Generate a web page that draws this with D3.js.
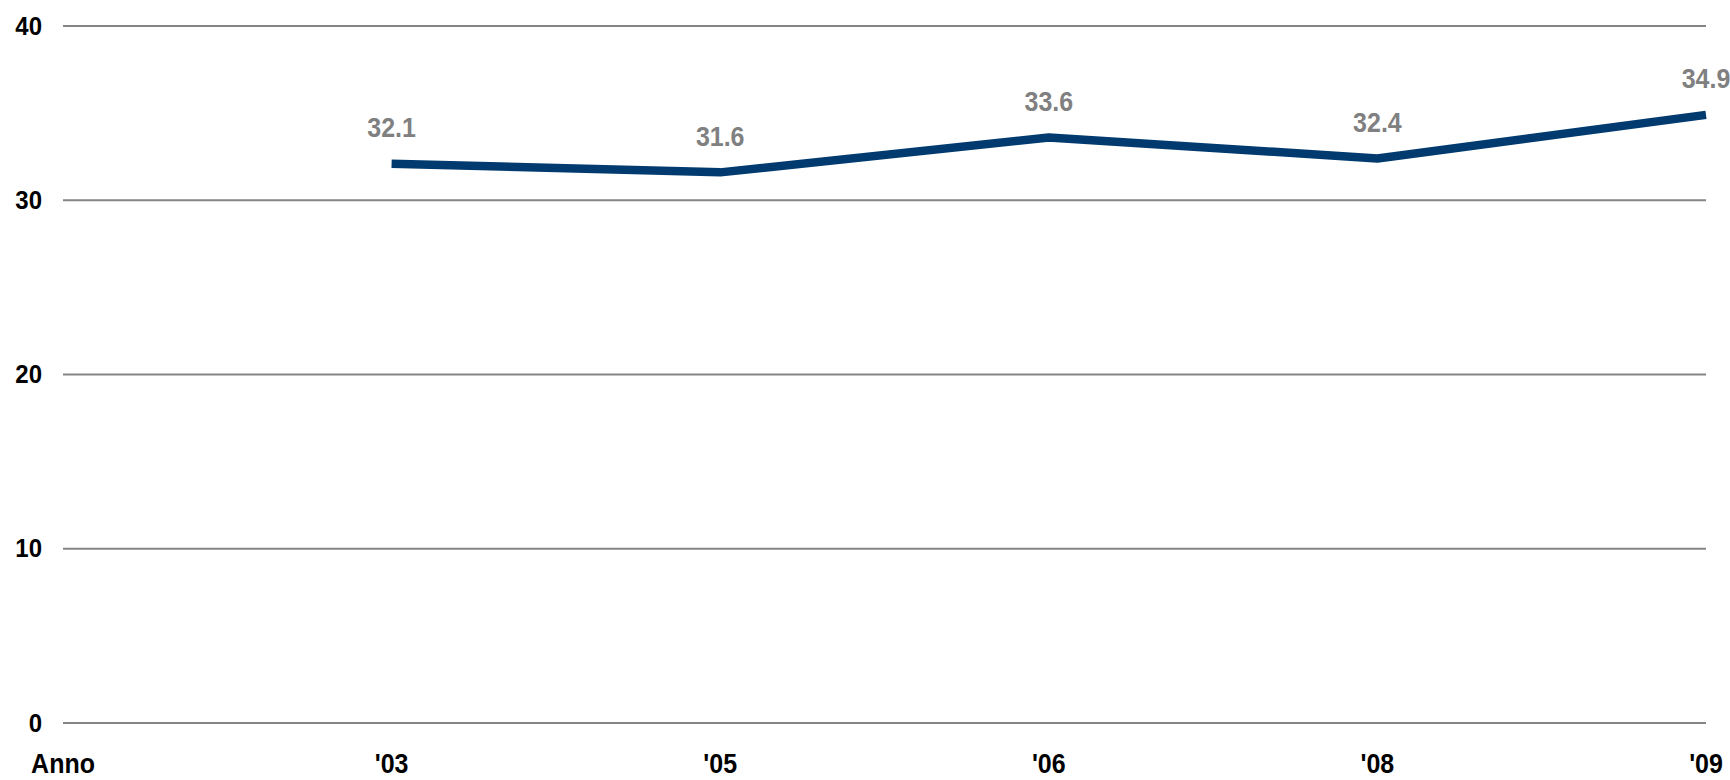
<!DOCTYPE html>
<html>
<head>
<meta charset="utf-8">
<script src="https://cdn.jsdelivr.net/npm/d3@7/dist/d3.min.js"></script>
<style>
  html, body { margin: 0; padding: 0; background: #fff; }
  svg { display: block; }
  text { font-family: "Liberation Sans", Arial, sans-serif; font-weight: bold; }
</style>
</head>
<body>
<svg id="chart" width="1730" height="780"></svg>
<script>
// Axis title shown in the first category slot
const axisTitle = "Anno";
// Survey years and measured values
const years = ["'03", "'05", "'06", "'08", "'09"];
const values = [32.1, 31.6, 33.6, 32.4, 34.9];
// Y axis ticks
const yTicks = [0, 10, 20, 30, 40];

const svg = d3.select("#chart");
const plotLeft = 63, plotRight = 1706, plotTop = 26, plotBottom = 723;
const stretch = 1.1; // slightly tall lettering

const x = d3.scalePoint()
  .domain([axisTitle, ...years])
  .range([plotLeft, plotRight]);

const y = d3.scaleLinear()
  .domain([0, 40])
  .range([plotBottom, plotTop]);

// Horizontal gridlines
svg.append("g")
  .selectAll("line")
  .data(yTicks)
  .join("line")
  .attr("x1", plotLeft)
  .attr("x2", plotRight)
  .attr("y1", d => y(d))
  .attr("y2", d => y(d))
  .attr("stroke", "#858585")
  .attr("stroke-width", 2);

// Y tick labels
svg.append("g")
  .selectAll("text")
  .data(yTicks)
  .join("text")
  .attr("transform", d => `translate(42,${y(d)}) scale(1,${stretch})`)
  .attr("dy", "0.33em")
  .attr("text-anchor", "end")
  .attr("font-size", 24)
  .attr("fill", "#000")
  .text(d => d);

// X category labels (title + years)
svg.append("g")
  .selectAll("text")
  .data([axisTitle, ...years])
  .join("text")
  .attr("transform", d => `translate(${x(d)},773) scale(1,${stretch})`)
  .attr("text-anchor", "middle")
  .attr("font-size", 25)
  .attr("fill", "#000")
  .text(d => d);

const pts = years.map((yr, i) => ({ yr, v: values[i] }));

// Trend line
svg.append("path")
  .datum(pts)
  .attr("fill", "none")
  .attr("stroke", "#003a6e")
  .attr("stroke-width", 8.5)
  .attr("stroke-linejoin", "round")
  .attr("stroke-linecap", "butt")
  .attr("d", d3.line().x(d => x(d.yr)).y(d => y(d.v)));

// Value labels
svg.append("g")
  .selectAll("text")
  .data(pts)
  .join("text")
  .attr("transform", d => `translate(${x(d.yr)},${y(d.v) - 26.5}) scale(1,${stretch})`)
  .attr("text-anchor", "middle")
  .attr("font-size", 25)
  .attr("fill", "#808080")
  .text(d => d.v.toFixed(1));
</script>
</body>
</html>
